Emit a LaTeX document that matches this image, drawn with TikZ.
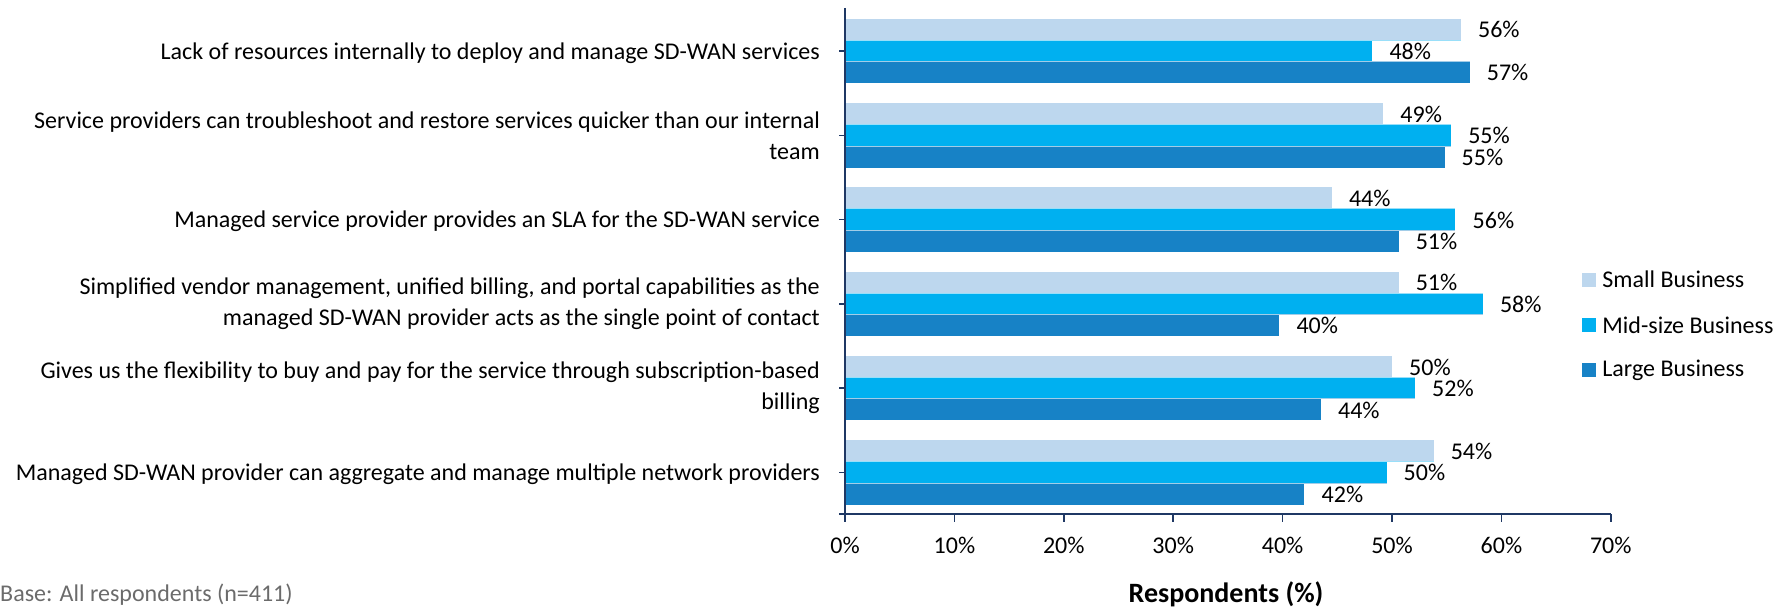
\documentclass[tikz,border=0pt]{standalone}
\usepackage{fontspec}
\setmainfont{Carlito}
\usetikzlibrary{positioning}

\definecolor{smallbiz}{HTML}{BDD7EE}
\definecolor{midbiz}{HTML}{00B0F0}
\definecolor{largebiz}{HTML}{1782C6}
\definecolor{axisnavy}{HTML}{1F3864}
\definecolor{basegray}{HTML}{6B6B6B}

\begin{document}
\begin{tikzpicture}[x = 1pt, y = -1pt, font = \fontsize{24}{31}\selectfont,
    legendkey/.style = {minimum size = 14pt, inner sep = 0pt},
    valuelabel/.style = {anchor = base west, inner sep = 0pt},
    reason/.style = {anchor = east, align = right, inner sep = 0pt}]

    \useasboundingbox (0,0) rectangle (1791,607);

    % bars, one group per reason (x: 0% at 845, 10.94 per percent)
    \foreach \k/\s/\m/\l/\sl/\ml/\ll in {0/56.3/48.2/57.1/56/48/57, 1/49.2/55.4/54.8/49/55/55, 2/44.5/55.8/50.6/44/56/51, 3/50.6/58.3/39.7/51/58/40, 4/50.0/52.1/43.5/50/52/44, 5/53.8/49.5/42.0/54/50/42} {
      \pgfmathsetmacro\yc{51 + 84.26*\k}
      \fill [smallbiz] (845, \yc-32.25) rectangle ({845 + 10.94*\s}, \yc-10.75);
      \fill [midbiz] (845, \yc-10.75) rectangle ({845 + 10.94*\m}, \yc+10.75);
      \fill [largebiz] (845, \yc+10.75) rectangle ({845 + 10.94*\l}, \yc+32.25);
      \draw [white!60!midbiz, line width = .6pt] (845, \yc-10.75) -- ({845 + 10.94*max(\s,\m)}, \yc-10.75);
      \draw [white!60!largebiz, line width = .6pt] (845, \yc+10.75) -- ({845 + 10.94*max(\m,\l)}, \yc+10.75);
      \node [valuelabel] (s\k) at ({845 + 10.94*\s + 17}, \yc-21.5+8.5) {\sl\%};
      \node [valuelabel] (m\k) at ({845 + 10.94*\m + 17}, \yc+8.5) {\ml\%};
      \node [valuelabel] (l\k) at ({845 + 10.94*\l + 17}, \yc+21.5+8.5) {\ll\%};
      \draw [axisnavy, line width = 1.5pt] (839, \yc) -- (845, \yc);
    }

    % reasons
    \node [reason] (c0) at (820, 53) {Lack of resources internally to deploy and manage SD-WAN services};
    \node [reason] (c1) at (820, 135.26) {Service providers can troubleshoot and restore services quicker than our internal\\team};
    \node [reason] (c2) at (820, 221.5) {Managed service provider provides an SLA for the SD-WAN service};
    \node [reason] (c3) at (820, 303.78) {Simplified vendor management, unified billing, and portal capabilities as the\\managed SD-WAN provider acts as the single point of contact};
    \node [reason] (c4) at (820, 388.04) {Gives us the flexibility to buy and pay for the service through subscription-based\\billing};
    \node [reason] (c5) at (820, 474.2) {Managed SD-WAN provider can aggregate and manage multiple network providers};

    % axes
    \draw [axisnavy, line width = 2pt] (845,8) -- (845,514);
    \draw [axisnavy, line width = 2pt] (839,514) -- (1611,514);
    \foreach \t in {0,...,7} {
      \draw [axisnavy, line width = 1.5pt] ({845 + 109.4*\t}, 514) -- ({845 + 109.4*\t}, 522);
      \node [anchor = base, inner sep = 0pt] (t\t) at ({845 + 109.4*\t}, 553) {\pgfmathparse{int(10*\t)}\pgfmathresult\%};
    }
    \node [anchor = base, inner sep = 0pt, font = \fontsize{28}{31}\selectfont\bfseries] (xtitle) at (1226, 602) {Respondents (\%)};
    \node [anchor = base west, inner sep = 0pt, text = basegray] (base) at (0, 601) {Base: All respondents (n=411)};

    % legend
    \node [legendkey, fill = smallbiz] (keyS) at (1589, 279.5) {};
    \node [legendkey, fill = midbiz] (keyM) at (1589, 325) {};
    \node [legendkey, fill = largebiz] (keyL) at (1589, 370) {};
    \node [right = 6pt of keyS, inner sep = 0pt] (legS) {Small Business};
    \node [right = 6pt of keyM, inner sep = 0pt] (legM) {Mid-size Business};
    \node [right = 6pt of keyL, inner sep = 0pt] (legL) {Large Business};
\end{tikzpicture}
\end{document}
